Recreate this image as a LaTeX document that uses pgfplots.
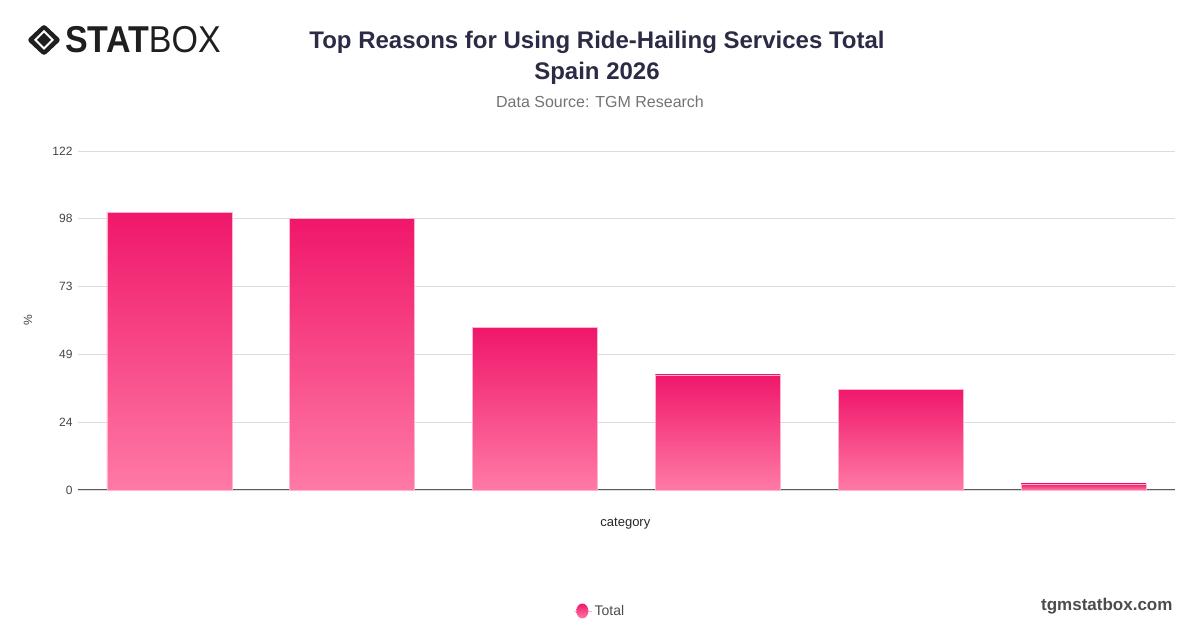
\documentclass[border=0pt]{standalone}
\usepackage{pgfplots}
\pgfplotsset{compat=1.18}
\usepackage{fontspec}
\setmainfont{Liberation Sans}
\definecolor{barTop}{HTML}{F0176A}
\definecolor{barBot}{HTML}{FF7AA6}
\definecolor{barEdge}{HTML}{FFB3CE}
\definecolor{titleC}{HTML}{2B2B45}
\definecolor{gridC}{HTML}{DCDCDC}
\definecolor{tickC}{HTML}{444444}
\begin{document}
\begin{tikzpicture}[x=1pt,y=1pt]
\path[use as bounding box] (0,0) rectangle (1200,628);
% logo
\fill[black!88, rounded corners=3pt] (44,604) -- (61,588) -- (44,572) -- (27,588) -- cycle;
\fill[white] (44,598) -- (54,588) -- (44,578) -- (34,588) -- cycle;
\fill[black!88] (44,595) -- (51,588) -- (44,581) -- (37,588) -- cycle;
\node[anchor=west, inner sep=0pt, font=\fontsize{34}{34}\selectfont, yscale=1.1, text=black!88] at (65,588) {\textbf{STAT}BOX};
% titles
\node[font=\fontsize{24}{24}\selectfont\bfseries, text=titleC] at (597,586) {Top Reasons for Using Ride-Hailing Services Total};
\node[font=\fontsize{24}{24}\selectfont\bfseries, text=titleC] at (597,555) {Spain 2026};
\node[font=\fontsize{16}{16}\selectfont, text=black!55] at (600,526) {Data Source: TGM Research};
\node[font=\fontsize{17}{17}\selectfont\bfseries, text=black!70, anchor=east] at (1176,22) {tgmstatbox.com};
\begin{axis}[
  at={(78pt,138pt)}, anchor=south west,
  width=1097pt, height=339pt, scale only axis,
  xmin=-0.5, xmax=5.5, ymin=0, ymax=122,
  ytick={0,24.4,48.8,73.2,97.6,122},
  yticklabels={0,24,49,73,98,122},
  xtick=\empty,
  ymajorgrids, grid style={gridC, line width=0.8pt},
  axis x line*=bottom, axis y line*=left,
  y axis line style={draw=none},
  major tick length=0pt,
  x axis line style={draw=black!65, line width=1pt, -},
  tick label style={font=\fontsize{12}{12}\selectfont, text=tickC},
  yticklabel style={xshift=-2pt},
  /pgf/number format/assume math mode=true,
  ylabel={\%}, ylabel style={font=\fontsize{12}{12}\selectfont, text=tickC, at={(-50pt,0.5)}, anchor=center, rotate=0},
  xlabel={category}, xlabel style={font=\fontsize{13}{13}\selectfont, text=black!85, at={(0.499,-34pt)}, anchor=center},
  legend style={at={(0.476,-0.357)}, anchor=center, draw=none, font=\fontsize{14}{14}\selectfont, text=black!70},
  legend image code/.code={\path (-2pt,0) -- (16pt,0); \shade[top color=barTop, bottom color=barBot, draw=none] (6pt,0pt) ellipse (6pt and 7.5pt);},
  clip=false,
  mybar/.style={ybar, bar width=0.684, bar shift=0pt, draw=barEdge, line width=0.6pt, top color=barTop, bottom color=barBot, mark=none},
]
\addplot[mybar] coordinates {(0,100.0)};
\addlegendentry{Total}
\addplot[mybar] coordinates {(1,97.6)};
\addplot[mybar] coordinates {(2,58.4)};
\addplot[mybar] coordinates {(3,41.4)};
\addplot[mybar] coordinates {(4,36.3)};
\addplot[mybar] coordinates {(5,2.2)};
\end{axis}
\end{tikzpicture}
\end{document}
